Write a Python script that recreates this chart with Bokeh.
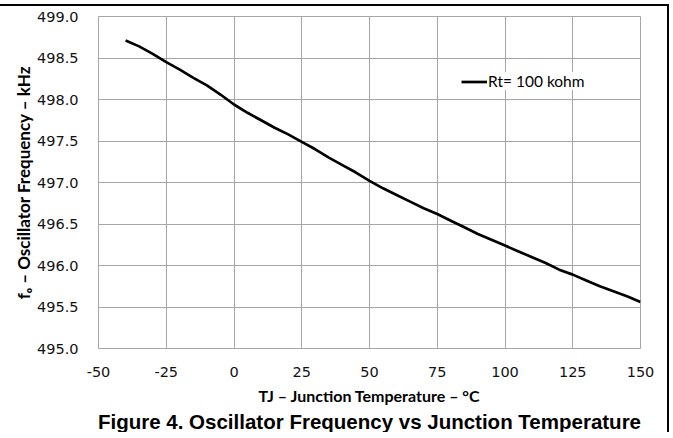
from bokeh.plotting import figure
from bokeh.models import Range1d, FixedTicker, Legend, LegendItem, Title
from bokeh.embed import file_html
from bokeh.resources import INLINE

# ---- data ----
temp_c = [-40, -35, -30, -25, -20, -15, -10, -5, 0, 5, 10, 15, 20, 25, 30, 35, 40, 45,
          50, 55, 60, 65, 70, 75, 80, 85, 90, 95, 100, 105, 110, 115, 120, 125, 130,
          135, 140, 145, 150]
freq_khz = [498.71, 498.64, 498.55, 498.45, 498.36, 498.26, 498.17, 498.06, 497.94,
            497.84, 497.75, 497.66, 497.58, 497.49, 497.40, 497.30, 497.21, 497.12,
            497.02, 496.93, 496.85, 496.77, 496.69, 496.62, 496.54, 496.46, 496.38,
            496.31, 496.24, 496.17, 496.10, 496.03, 495.95, 495.89, 495.82, 495.75,
            495.69, 495.63, 495.56]
x_ticks = [-50, -25, 0, 25, 50, 75, 100, 125, 150]
x_tick_labels = ["-50", "-25", "0", "25", "50", "75", "100", "125", "150"]
y_ticks = [495.0, 495.5, 496.0, 496.5, 497.0, 497.5, 498.0, 498.5, 499.0]
y_tick_labels = ["495.0", "495.5", "496.0", "496.5", "497.0", "497.5", "498.0", "498.5", "499.0"]
series_label = "Rt= 100 kohm"
x_label = "TJ \u2013 Junction Temperature \u2013 \u00b0C"
y_label = "f\u2092 \u2013 Oscillator Frequency \u2013 kHz"
title_text = "Figure 4. Oscillator Frequency vs Junction Temperature"

GRID = "#a6a6a6"

p = figure(width=669, height=428, output_backend="svg", toolbar_location=None,
           title_location=None,
           x_range=Range1d(x_ticks[0], x_ticks[-1]), y_range=Range1d(y_ticks[0], y_ticks[-1]),
           min_border_left=98, min_border_right=29, min_border_top=10, min_border_bottom=86)
p.styles = {"border-top": "2px solid black", "border-right": "2px solid black",
            "margin-top": "4px"}

r = p.line(temp_c, freq_khz, line_color="black", line_width=2.7)

p.xaxis.ticker = FixedTicker(ticks=x_ticks)
p.yaxis.ticker = FixedTicker(ticks=y_ticks)
p.xaxis.major_label_overrides = dict(zip(x_ticks, x_tick_labels))
p.yaxis.major_label_overrides = dict(zip(y_ticks, y_tick_labels))
for ax in (p.xaxis[0], p.yaxis[0]):
    ax.major_tick_line_color = None
    ax.minor_tick_line_color = None
    ax.axis_line_color = GRID
    ax.major_label_text_font = "DejaVu Sans"
    ax.major_label_text_font_size = "14.5px"
    ax.major_label_text_color = "#111111"
    ax.axis_label_text_font = "Lato"
    ax.axis_label_text_font_style = "bold"
    ax.axis_label_text_color = "#000000"
p.xaxis.axis_label_text_font_size = "16px"
p.yaxis.axis_label_text_font_size = "17px"
p.xaxis.axis_label = x_label
p.yaxis.axis_label = y_label
p.xaxis.major_label_standoff = 12
p.yaxis.major_label_standoff = 14
p.xaxis.axis_label_standoff = 6
p.yaxis.axis_label_standoff = 0

p.grid.grid_line_color = GRID
p.grid.grid_line_width = 1
p.outline_line_color = GRID

legend = Legend(items=[LegendItem(label=series_label, renderers=[r])],
                location=(363, 258), padding=5, margin=0, spacing=0,
                glyph_width=26, glyph_height=15, label_standoff=1,
                label_text_font="Lato", label_text_font_size="15.5px",
                label_text_color="#000000", border_line_color=None,
                background_fill_color="white", background_fill_alpha=1.0)
p.add_layout(legend, "center")

title = Title(text=title_text, align="center", text_font="Liberation Sans",
              text_font_style="bold", text_font_size="20.5px", text_color="#000000",
              offset=-6, standoff=0)
p.add_layout(title, "below")

open("out.html", "w").write(file_html(p, INLINE))
